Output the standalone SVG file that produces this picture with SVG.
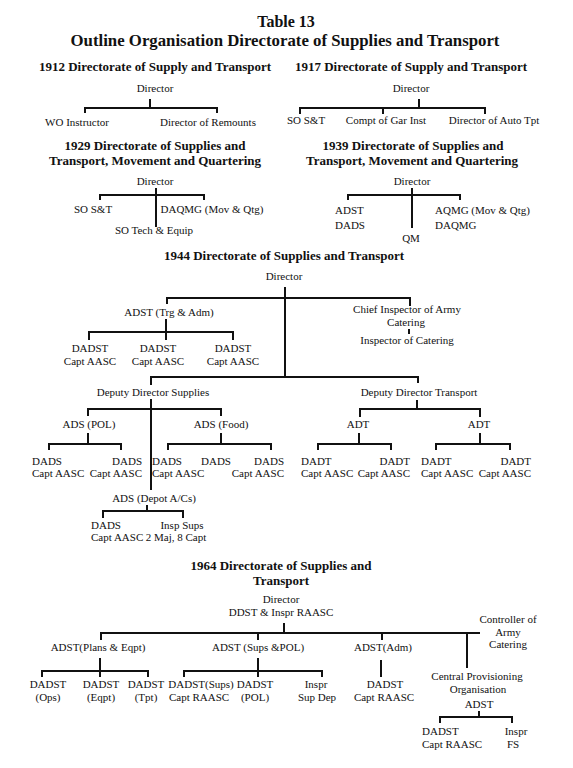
<svg xmlns="http://www.w3.org/2000/svg" width="573" height="768" viewBox="0 0 573 768">
<style>
text{font-family:"Liberation Serif","Times New Roman",serif;font-size:11px;fill:#111}
.h{font-weight:bold;font-size:13px;text-anchor:middle}
.t{font-weight:bold;text-anchor:middle}
.c{text-anchor:middle}
.e{text-anchor:end}
#connectors path{fill:none;stroke:#111;stroke-width:2}
</style>
<rect width="573" height="768" fill="#fff"/>
<g id="title">
<text class="t" x="286" y="27" style="font-size:16px">Table 13</text>
<text class="t" x="285" y="46" style="font-size:16.8px">Outline Organisation Directorate of Supplies and Transport</text>
</g>
<g id="connectors">
<!-- 1912 -->
<path d="M150,99V108M85,113V108H217V113"/>
<!-- 1917 -->
<path d="M419,99V108M300,114V108H485V114M383,108V114"/>
<!-- 1929 -->
<path d="M156,188V227M100,200V195H204V200"/>
<!-- 1939 -->
<path d="M412,188V228M348,200V195H460V200"/>
<!-- 1944 -->
<path d="M285,287V377"/>
<path d="M167,304V298H410V306"/>
<path d="M166,319V340M89,340V332H233V340"/>
<path d="M409,329V334"/>
<path d="M151,385V377H418V383"/>
<path d="M151,399V490"/>
<path d="M88,416V409H221V416"/>
<path d="M88,433V444M49,450V444H121V450"/>
<path d="M221,433V444M168,450V444H271V450"/>
<path d="M147,505V511M103,518V511H183V518"/>
<path d="M417,400V409M360,417V409H480V417"/>
<path d="M359,433V444M318,450V444H391V450"/>
<path d="M480,433V444M436,450V444H510V450"/>
<!-- 1964 -->
<path d="M284,623V633M101,640V633H480M258,633V640M382,633V640M467,633V668"/>
<path d="M100,658V677M42,677V671H148V677"/>
<path d="M258,658V677M184,677V671H322V677"/>
<path d="M381,660V677"/>
<path d="M479,711V717M440,723V717H512V723"/>
</g>
<!-- 1912 -->
<g id="h1912"><text class="h" x="155" y="71">1912 Directorate of Supply and Transport</text></g>
<g id="n1912-director"><text class="c" x="155" y="92">Director</text></g>
<g id="n1912-wo"><text class="c" x="77" y="126">WO Instructor</text></g>
<g id="n1912-remounts"><text class="c" x="208" y="126">Director of Remounts</text></g>
<!-- 1917 -->
<g id="h1917"><text class="h" x="411" y="71">1917 Directorate of Supply and Transport</text></g>
<g id="n1917-director"><text class="c" x="411" y="92">Director</text></g>
<g id="n1917-sost"><text class="c" x="306" y="124">SO S&amp;T</text></g>
<g id="n1917-compt"><text class="c" x="386" y="124">Compt of Gar Inst</text></g>
<g id="n1917-auto"><text class="c" x="494" y="124">Director of Auto Tpt</text></g>
<!-- 1929 -->
<g id="h1929"><text class="h" x="155" y="150">1929 Directorate of Supplies and</text><text class="h" x="155" y="164.5">Transport, Movement and Quartering</text></g>
<g id="n1929-director"><text class="c" x="155" y="185">Director</text></g>
<g id="n1929-sost"><text class="c" x="93" y="213">SO S&amp;T</text></g>
<g id="n1929-daqmg"><text class="c" x="212" y="213">DAQMG (Mov &amp; Qtg)</text></g>
<g id="n1929-sotech"><text class="c" x="154" y="234">SO Tech &amp; Equip</text></g>
<!-- 1939 -->
<g id="h1939"><text class="h" x="413" y="150">1939 Directorate of Supplies and</text><text class="h" x="412" y="164.5">Transport, Movement and Quartering</text></g>
<g id="n1939-director"><text class="c" x="412" y="185">Director</text></g>
<g id="n1939-adst"><text x="335" y="214">ADST</text><text x="335" y="229">DADS</text></g>
<g id="n1939-aqmg"><text x="435" y="214">AQMG (Mov &amp; Qtg)</text><text x="435" y="229">DAQMG</text></g>
<g id="n1939-qm"><text class="c" x="411" y="242">QM</text></g>
<!-- 1944 -->
<g id="h1944"><text class="h" x="284" y="260">1944 Directorate of Supplies and Transport</text></g>
<g id="n1944-director"><text class="c" x="284" y="280">Director</text></g>
<g id="n1944-adst"><text class="c" x="169" y="316">ADST (Trg &amp; Adm)</text></g>
<g id="n1944-dadst1"><text class="c" x="90" y="352">DADST</text><text class="c" x="90" y="365">Capt AASC</text></g>
<g id="n1944-dadst2"><text class="c" x="158" y="352">DADST</text><text class="c" x="158" y="365">Capt AASC</text></g>
<g id="n1944-dadst3"><text class="c" x="233" y="352">DADST</text><text class="c" x="233" y="365">Capt AASC</text></g>
<g id="n1944-chief"><text class="c" x="407" y="313">Chief Inspector of Army</text><text class="c" x="406" y="325.5">Catering</text></g>
<g id="n1944-inspcat"><text class="c" x="407" y="344">Inspector of Catering</text></g>
<g id="n1944-dds"><text class="c" x="153" y="396">Deputy Director Supplies</text></g>
<g id="n1944-adspol"><text class="c" x="89" y="428">ADS (POL)</text></g>
<g id="n1944-adsfood"><text class="c" x="221" y="428">ADS (Food)</text></g>
<g id="n1944-dads1"><text x="32" y="465">DADS</text><text x="32" y="477">Capt AASC</text></g>
<g id="n1944-dads2"><text class="e" x="142" y="465">DADS</text><text class="e" x="142" y="477">Capt AASC</text></g>
<g id="n1944-dads3"><text x="152" y="465">DADS</text><text x="152" y="477">Capt AASC</text></g>
<g id="n1944-dads4"><text class="c" x="216" y="465">DADS</text></g>
<g id="n1944-dads5"><text class="e" x="284" y="465">DADS</text><text class="e" x="284" y="477">Capt AASC</text></g>
<g id="n1944-adsdepot"><text class="c" x="154" y="502">ADS (Depot A/Cs)</text></g>
<g id="n1944-dads6"><text x="91" y="529">DADS</text><text x="91" y="541">Capt AASC</text></g>
<g id="n1944-inspsups"><text class="c" x="182" y="529">Insp Sups</text><text class="c" x="176" y="541">2 Maj, 8 Capt</text></g>
<g id="n1944-ddt"><text class="c" x="419" y="396">Deputy Director Transport</text></g>
<g id="n1944-adt1"><text class="c" x="358" y="428">ADT</text></g>
<g id="n1944-adt2"><text class="c" x="479" y="428">ADT</text></g>
<g id="n1944-dadt1"><text x="301" y="465">DADT</text><text x="301" y="477">Capt AASC</text></g>
<g id="n1944-dadt2"><text class="e" x="410" y="465">DADT</text><text class="e" x="410" y="477">Capt AASC</text></g>
<g id="n1944-dadt3"><text x="421" y="465">DADT</text><text x="421" y="477">Capt AASC</text></g>
<g id="n1944-dadt4"><text class="e" x="531" y="465">DADT</text><text class="e" x="531" y="477">Capt AASC</text></g>
<!-- 1964 -->
<g id="h1964"><text class="h" x="281" y="570">1964 Directorate of Supplies and</text><text class="h" x="281" y="584.5">Transport</text></g>
<g id="n1964-director"><text class="c" x="281" y="603">Director</text><text class="c" x="281" y="616">DDST &amp; Inspr RAASC</text></g>
<g id="n1964-controller"><text class="c" x="508" y="623">Controller of</text><text class="c" x="508" y="636">Army</text><text class="c" x="508" y="648">Catering</text></g>
<g id="n1964-plans"><text class="c" x="98" y="651">ADST(Plans &amp; Eqpt)</text></g>
<g id="n1964-sups"><text class="c" x="258" y="651">ADST (Sups &amp;POL)</text></g>
<g id="n1964-adm"><text class="c" x="383" y="651">ADST(Adm)</text></g>
<g id="n1964-ops"><text class="c" x="48" y="688">DADST</text><text class="c" x="48" y="701">(Ops)</text></g>
<g id="n1964-eqpt"><text class="c" x="101" y="688">DADST</text><text class="c" x="101" y="701">(Eqpt)</text></g>
<g id="n1964-tpt"><text class="c" x="146" y="688">DADST</text><text class="c" x="146" y="701">(Tpt)</text></g>
<g id="n1964-dadstsups"><text class="c" x="201" y="688">DADST(Sups)</text><text x="169" y="701">Capt RAASC</text></g>
<g id="n1964-pol"><text class="c" x="255" y="688">DADST</text><text class="c" x="255" y="701">(POL)</text></g>
<g id="n1964-supdep"><text class="c" x="316" y="688">Inspr</text><text class="c" x="317" y="701">Sup Dep</text></g>
<g id="n1964-dadstadm"><text class="c" x="385" y="688">DADST</text><text class="c" x="384" y="701">Capt RAASC</text></g>
<g id="n1964-cpo"><text class="c" x="477" y="680">Central Provisioning</text><text class="c" x="478" y="693">Organisation</text><text class="c" x="479" y="708">ADST</text></g>
<g id="n1964-cpodadst"><text x="422" y="735">DADST</text><text x="422" y="748">Capt RAASC</text></g>
<g id="n1964-fs"><text class="c" x="516" y="735">Inspr</text><text class="c" x="513" y="748">FS</text></g>
</svg>
